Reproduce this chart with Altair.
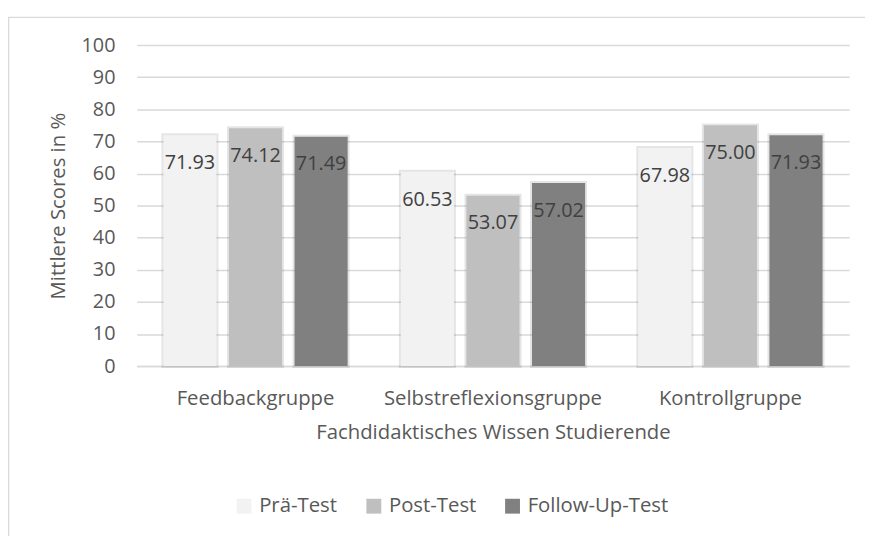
import altair as alt
import pandas as pd

groups = ["Feedbackgruppe", "Selbstreflexionsgruppe", "Kontrollgruppe"]
series = ["Prä-Test", "Post-Test", "Follow-Up-Test"]
pre_test = [71.93, 60.53, 67.98]
post_test = [74.12, 53.07, 75.00]
follow_up = [71.49, 57.02, 71.93]
colors = ["#f2f2f2", "#bfbfbf", "#808080"]
y_ticks = list(range(0, 101, 10))

rows = []
for s, vals in zip(series, [pre_test, post_test, follow_up]):
    for g, v in zip(groups, vals):
        rows.append({"Gruppe": g, "Test": s, "Wert": v})
df = pd.DataFrame(rows)

FONT = "Open Sans"
TXT = "#595959"
W, H = 719, 324

x = alt.X("Gruppe:N", sort=groups,
          scale=alt.Scale(paddingInner=0.224, paddingOuter=0.112),
          axis=alt.Axis(title="Fachdidaktisches Wissen Studierende", labelAngle=0,
                        labelFontSize=20.5, labelColor=TXT, labelPadding=23,
                        labelLimit=0,
                        titleFontSize=20.5, titleColor=TXT, titlePadding=14,
                        titleFontWeight="normal",
                        domain=True, domainColor="#d9d9d9", domainWidth=1.5,
                        ticks=False, labelFont=FONT, titleFont=FONT))
xoff = alt.XOffset("Test:N", sort=series, scale=alt.Scale(paddingInner=0.19))
y = alt.Y("Wert:Q", scale=alt.Scale(domain=[0, 100]),
          axis=alt.Axis(title="Mittlere Scores in %", values=y_ticks,
                        labelFontSize=20, labelColor=TXT, labelPadding=22,
                        titleFontSize=20.5, titleColor=TXT, titlePadding=13,
                        titleFontWeight="normal",
                        grid=True, gridColor="#d9d9d9", gridWidth=1.5,
                        domain=False, ticks=False, labelFont=FONT, titleFont=FONT))
color = alt.Color("Test:N", sort=series,
                  scale=alt.Scale(domain=series, range=colors),
                  legend=alt.Legend(title=None, orient="none", direction="horizontal",
                                    legendX=98, legendY=455,
                                    symbolType="square", symbolSize=225,
                                    symbolStrokeWidth=0,
                                    labelFontSize=20.5, labelColor=TXT,
                                    labelFont=FONT, columnPadding=26, labelOffset=5))

base = alt.Chart(df)

border = alt.Chart(pd.DataFrame({"a": [0]})).mark_rect(
    fillOpacity=0, stroke="#d9d9d9", strokeWidth=1.5, clip=False
).encode(x=alt.value(-129.5), x2=alt.value(760), y=alt.value(-28), y2=alt.value(520))

shadow = base.mark_bar(stroke="#000000", strokeOpacity=0.10, strokeWidth=4,
                       fill="#000000", fillOpacity=0).encode(
    x=x, xOffset=xoff, y=y)

bars = base.mark_bar().encode(x=x, xOffset=xoff, y=y, color=color)

labels = base.mark_text(baseline="middle", align="center", dy=28,
                        fontSize=20, color="#404040", font=FONT).encode(
    x=x, xOffset=xoff, y=y, text=alt.Text("Wert:Q", format=".2f"))

chart = alt.layer(border, shadow, bars, labels).properties(
    width=W, height=H,
    autosize=alt.AutoSizeParams(type="none"),
    padding={"left": 130, "top": 35, "right": 16, "bottom": 169},
    background="white",
).configure_view(stroke=None)

chart.save("out.html", embed_options={"renderer": "svg", "actions": False})
